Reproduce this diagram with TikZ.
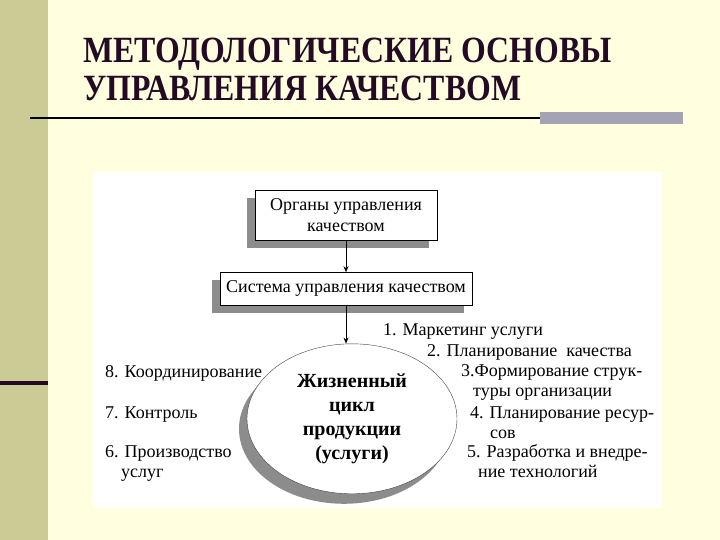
\documentclass[tikz,border=0pt]{standalone}
\usepackage{fontspec}
\setmainfont{Liberation Serif}
\newfontfamily\titlefont{Liberation Serif}[FakeStretch=0.86]
\usetikzlibrary{arrows.meta,positioning,shapes.geometric,shadows}
\definecolor{qmCream}{HTML}{FFFFE0}
\definecolor{qmOlive}{HTML}{CBCB96}
\definecolor{qmPlum}{HTML}{240A24}
\definecolor{qmBar}{HTML}{A3A3B3}
\definecolor{qmShade}{HTML}{8C8C8C}

\begin{document}
\begin{tikzpicture}[x=1pt, y=-1pt,
  ttl/.style={anchor=base west, inner sep=0pt, text=qmPlum, font=\titlefont\fontsize{37}{40}\selectfont\bfseries},
  obj/.style={draw=black, fill=white, align=center, font=\fontsize{18}{21}\selectfont,
    drop shadow={shadow xshift=-8pt, shadow yshift=-8pt, fill=qmShade, opacity=1}},
  arr/.style={-{Stealth[length=6pt, width=5pt]}, line width=0.9pt},
  lab/.style={anchor=base west, inner sep=0pt, align=left, font=\fontsize{18}{19.5}\selectfont}]
\useasboundingbox (0,0) rectangle (720,540);
% page
\fill[qmCream] (0,0) rectangle (720,540);
\fill[qmOlive] (0,0) rectangle (48,540);
\fill[qmPlum] (0,381) rectangle (48,385);
\node[ttl] (ttl1) at (83,63) {МЕТОДОЛОГИЧЕСКИЕ ОСНОВЫ};
\node[ttl] (ttl2) at (83,101) {УПРАВЛЕНИЯ КАЧЕСТВОМ};
\draw[line width=2pt] (30,118) -- (540,118);
\fill[qmBar] (540,112) rectangle (683,124);
\fill[white] (93,172) rectangle (662,508);
% labels (base = last line)
\node[lab] (c1) at (383,335) {1. Маркетинг услуги};
\node[lab] (c2) at (427,356) {2. Планирование\ \ качества};
\node[lab] (c3) at (461,396) {3.Формирование струк-\\\hspace*{12pt}туры организации};
\node[lab] (c4) at (470,438) {4. Планирование ресур-\\\hspace*{20pt}сов};
\node[lab] (c5) at (467,477) {5. Разработка и внедре-\\\hspace*{11pt}ние технологий};
\node[lab] (c6) at (105,477) {6. Производство\\\hspace*{16pt}услуг};
\node[lab] (c7) at (105,418) {7. Контроль};
\node[lab] (c8) at (105,377) {8. Координирование};
% boxes
\node[obj, minimum width=182pt, minimum height=50pt] (organy) at (346,215) {Органы управления\\качеством};
\node[obj, minimum width=252pt, minimum height=33pt, below=32pt of organy] (sistema) {Система управления качеством};
\node[ellipse, draw=black!75, fill=white, minimum width=210pt, minimum height=150pt, align=center,
  inner sep=0pt, font=\fontsize{20}{24}\selectfont\bfseries,
  drop shadow={shadow xshift=-8pt, shadow yshift=-10pt, fill=qmShade, opacity=1},
  below=38pt of sistema, xshift=6pt] (cikl) {Жизненный\\цикл\\продукции\\(услуги)};
\draw[arr] (organy) -- (sistema);
\draw[arr] (sistema) -- (sistema |- cikl.north);
\end{tikzpicture}
\end{document}
